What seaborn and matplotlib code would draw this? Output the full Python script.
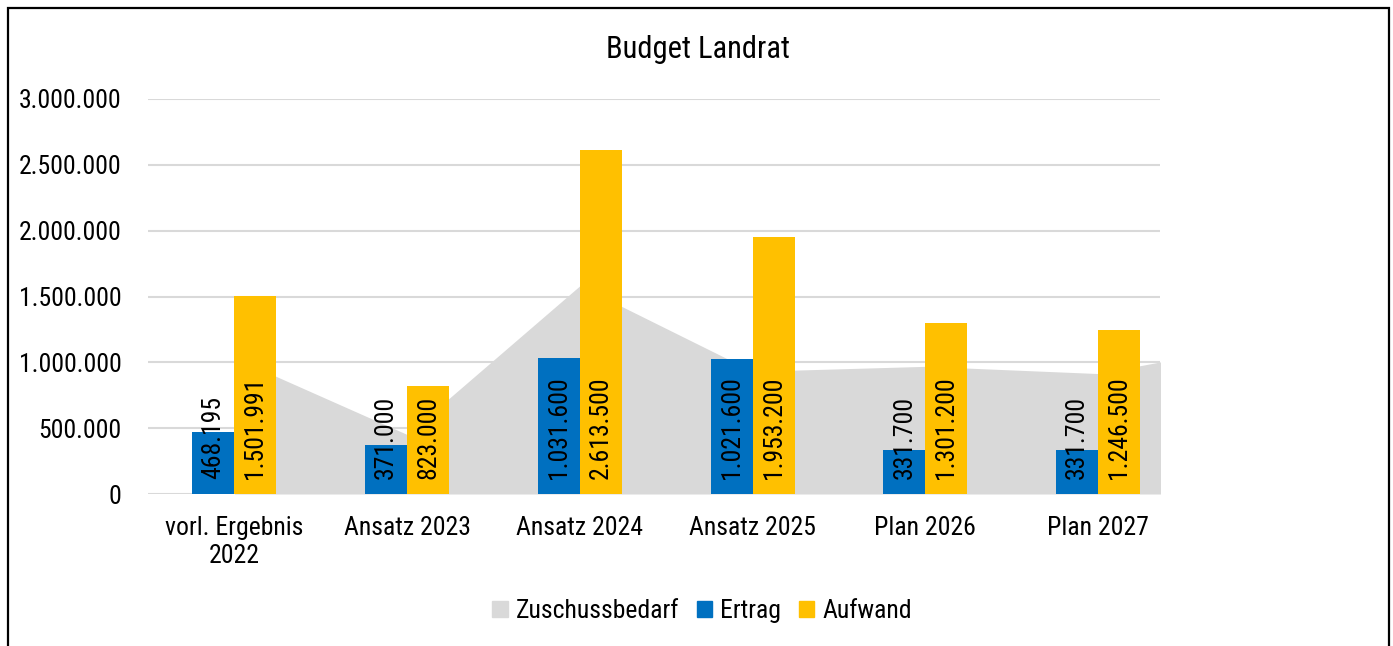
import numpy as np
import pandas as pd
import matplotlib
matplotlib.use('Agg')
import matplotlib.pyplot as plt
from matplotlib import font_manager
from matplotlib.patches import Patch, Rectangle
from matplotlib.ticker import FuncFormatter
import seaborn as sns

# Daten
categories = ['vorl. Ergebnis\n2022', 'Ansatz 2023', 'Ansatz 2024',
              'Ansatz 2025', 'Plan 2026', 'Plan 2027']
ertrag = [468195, 371000, 1031600, 1021600, 331700, 331700]
aufwand = [1501991, 823000, 2613500, 1953200, 1301200, 1246500]
# Zuschussbedarf (Flaeche), letzter Punkt liegt ausserhalb des sichtbaren Bereichs
zuschuss = [1033796, 452000, 1581900, 931600, 969500, 914800, 1160000]

c_grey = '#D9D9D9'
c_blue = '#0070C0'
c_yellow = '#FFC000'

sns.set_theme(style='white')

# schmale Schrift, falls vorhanden
names = {f.name for f in font_manager.fontManager.ttflist}
narrow = [n for n in ['Liberation Sans Narrow', 'Arial Narrow', 'Roboto Condensed',
                      'Open Sans Condensed', 'Noto Sans Condensed'] if n in names]
if narrow:
    plt.rcParams['font.family'] = [narrow[0], 'DejaVu Sans']
    fs, fs_title = 18.5, 22
else:
    plt.rcParams['font.family'] = ['Liberation Sans', 'DejaVu Sans']
    fs, fs_title = 16.5, 20


def de_fmt(v, pos=None):
    return f'{v:,.0f}'.replace(',', '.')


df = pd.DataFrame({
    'Kategorie': categories * 2,
    'Serie': ['Ertrag'] * 6 + ['Aufwand'] * 6,
    'Wert': ertrag + aufwand,
})

fig = plt.figure(figsize=(13.93, 6.46), dpi=100)
ax = fig.add_axes([148 / 1393, 152 / 646, 1012 / 1393, 395 / 646])

# Flaeche Zuschussbedarf
ax.fill_between(range(len(zuschuss)), zuschuss, 0, color=c_grey, lw=0, zorder=1)

sns.barplot(data=df, x='Kategorie', y='Wert', hue='Serie',
            palette=[c_blue, c_yellow], width=0.486, saturation=1,
            linewidth=0, legend=False, ax=ax, zorder=2)

# Datenbeschriftungen
for cont in ax.containers:
    for bar in cont:
        h = bar.get_height()
        ax.annotate(de_fmt(h), (bar.get_x() + bar.get_width() / 2, 0),
                    xytext=(0, 11), textcoords='offset points',
                    rotation=90, ha='center', va='bottom',
                    fontsize=fs, color='black', zorder=5)

ax.set_xlim(-0.5, 5.358)
ax.set_ylim(0, 3000000)
ax.set_yticks(np.arange(0, 3000001, 500000))
ax.yaxis.set_major_formatter(FuncFormatter(de_fmt))
ax.grid(axis='y', color=c_grey, lw=1.5)
ax.grid(axis='x', visible=False)
ax.set_axisbelow(True)
for s in ax.spines.values():
    s.set_visible(False)
ax.set_xlabel('')
ax.set_ylabel('')
ax.tick_params(axis='y', length=0, pad=19, labelsize=fs, labelcolor='black')
ax.tick_params(axis='x', length=0, pad=16, labelsize=fs, labelcolor='black')
for t in ax.get_xticklabels():
    t.set_multialignment('center')

fig.text(0.501, (646 - 50) / 646, 'Budget Landrat', ha='center', va='center',
         fontsize=fs_title, color='black')

handles = [Patch(color=c_grey, label='Zuschussbedarf'),
           Patch(color=c_blue, label='Ertrag'),
           Patch(color=c_yellow, label='Aufwand')]
fig.legend(handles=handles, loc='center', bbox_to_anchor=(0.504, (646 - 611) / 646),
           ncol=3, frameon=False, fontsize=fs, handlelength=0.6, handleheight=0.6,
           handletextpad=0.3, columnspacing=0.7, labelcolor='black')

# Rahmen
fig.patches.append(Rectangle((8 / 1393, -0.05), 1381 / 1393, 1.05 - 8 / 646,
                             transform=fig.transFigure, fill=False,
                             edgecolor='black', lw=1.6))

fig.savefig('out.png', dpi=100)
